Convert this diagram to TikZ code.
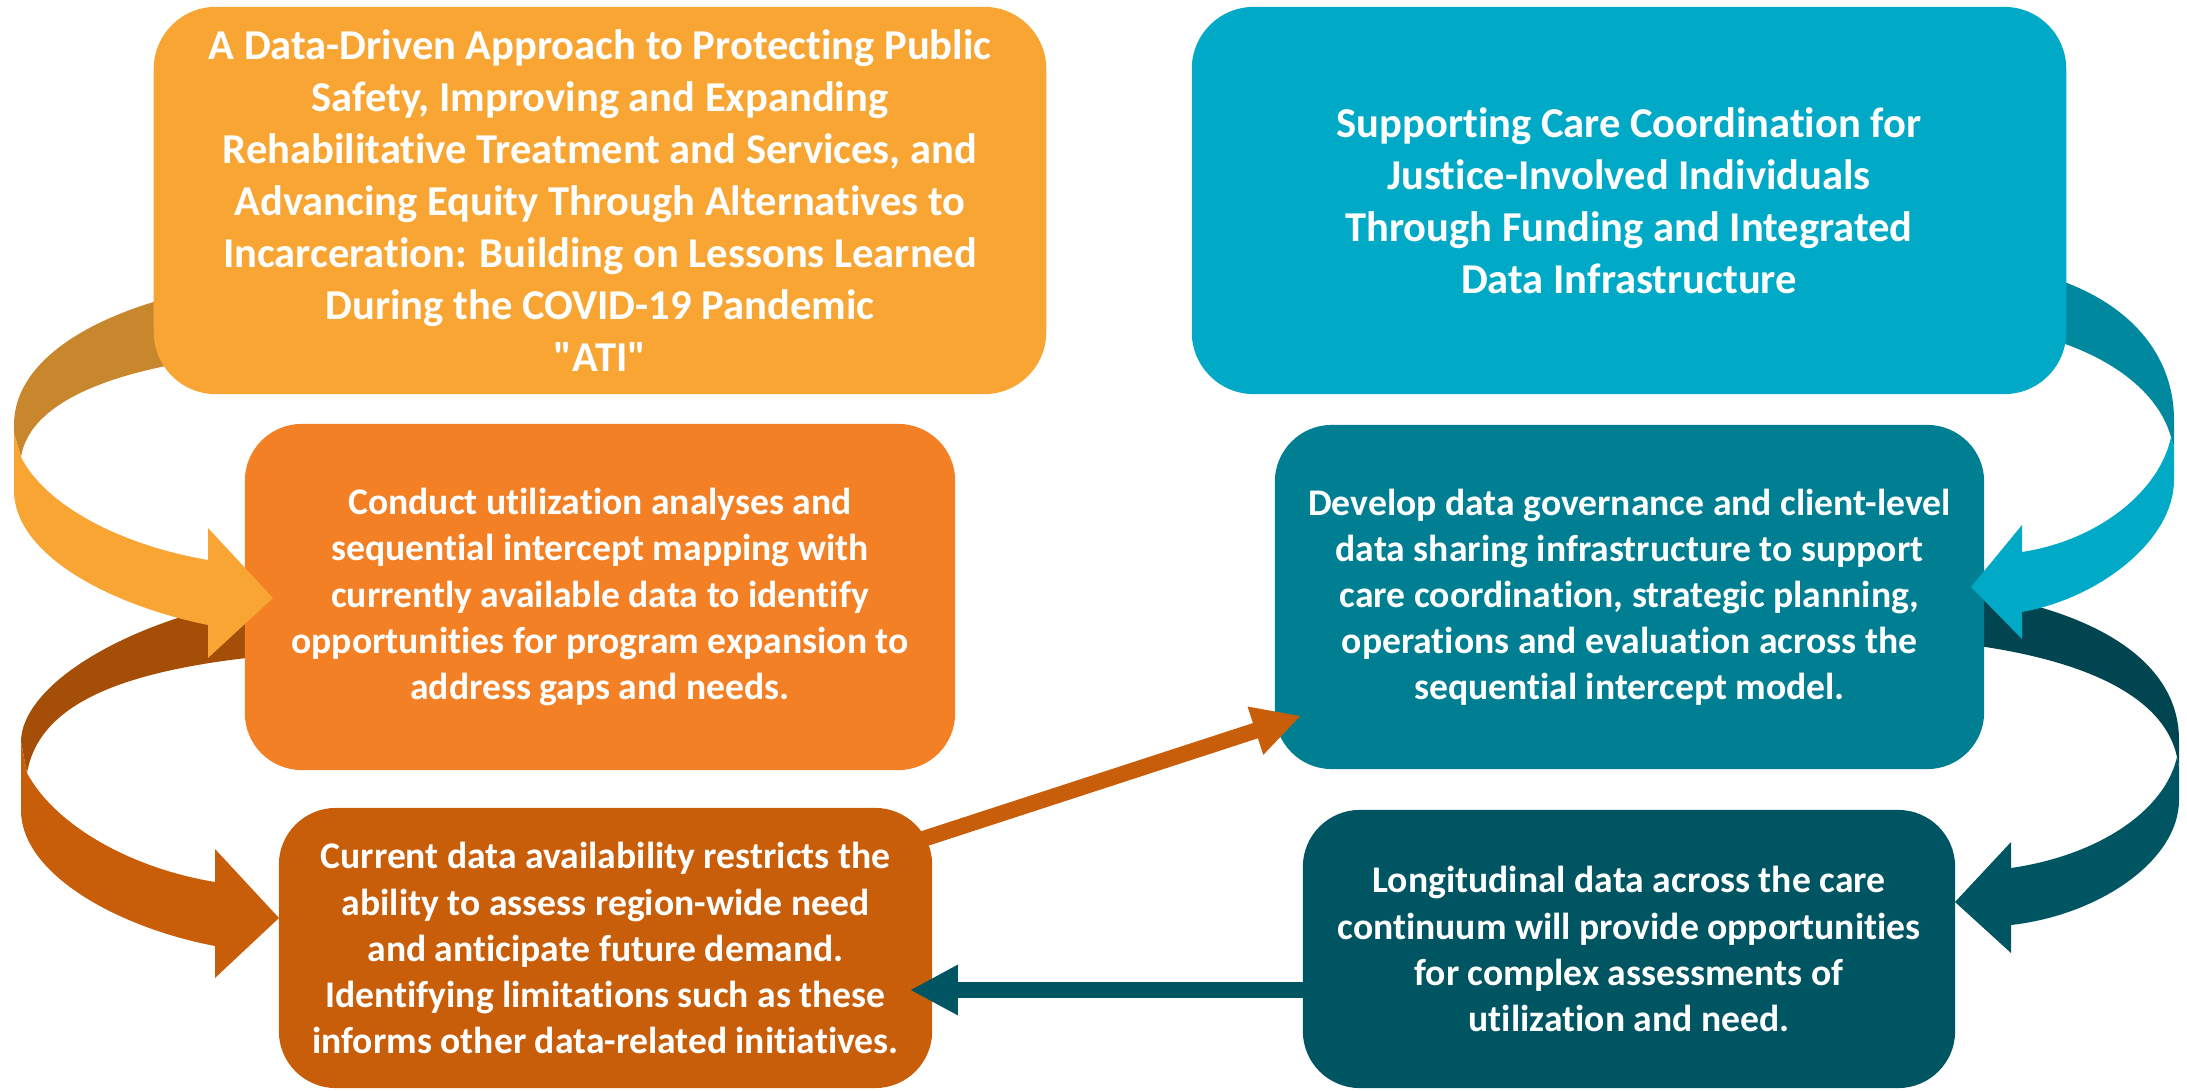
\documentclass[tikz,border=0pt]{standalone}
\usepackage{fontspec}
\newfontfamily\carl{Carlito}[Ligatures=CommonOff]
\usetikzlibrary{arrows.meta,calc}
\definecolor{cA}{HTML}{F9A533}
\definecolor{cAback}{HTML}{C8872C}
\definecolor{cB}{HTML}{F48026}
\definecolor{cC}{HTML}{C95E0A}
\definecolor{cCback}{HTML}{A54E07}
\definecolor{cD}{HTML}{00AAC7}
\definecolor{cDback}{HTML}{00899E}
\definecolor{cE}{HTML}{007F93}
\definecolor{cEback}{HTML}{00454F}
\definecolor{cF}{HTML}{005562}
\tikzset{
  titlebox/.style={rounded corners=0.62cm, inner sep=0pt, align=center, text=white,
    font=\carl\fontsize{12.1pt}{14.8pt}\selectfont\bfseries},
  bodybox/.style={rounded corners=0.57cm, inner sep=0pt, align=center, text=white,
    font=\carl\fontsize{10.7pt}{13.1pt}\selectfont\bfseries},
  flatarrow/.style={line width=0.16cm, -{Triangle[length=0.48cm,width=0.47cm]}},
}
\begin{document}
\begin{tikzpicture}[x=0.01cm,y=-0.01cm]
\useasboundingbox (0,0) rectangle (2187,1091);

% ---- back parts of the curled arrows (behind the boxes)
\fill[cAback] (300,278) .. controls (150,285) and (14,340) .. (14,425) -- (14,433) -- (21,457)
  .. controls (30,400) and (120,360) .. (300,350) -- cycle;
\fill[cCback] (350,585) .. controls (150,600) and (21,680) .. (21,742) -- (27,773)
  .. controls (40,700) and (130,660) .. (350,650) -- cycle;
\fill[cDback] (1950,262) .. controls (2090,265) and (2174,330) .. (2174,420) -- (2174,447) -- (2171,437)
  .. controls (2155,380) and (2080,330) .. (1950,322) -- cycle;
\fill[cEback] (1900,585) .. controls (2070,595) and (2179,650) .. (2179,740) -- (2179,767) -- (2177,757)
  .. controls (2165,700) and (2090,650) .. (1900,638) -- cycle;

% ---- boxes
\node[titlebox, fill=cA, minimum width=8.92cm, minimum height=3.87cm] (b1) at (600,200.5)
  {A Data-Driven Approach to Protecting Public\\Safety, Improving and Expanding\\Rehabilitative Treatment and Services, and\\Advancing Equity Through Alternatives to\\Incarceration: Building on Lessons Learned\\During the COVID-19 Pandemic\\"ATI"};
\node[titlebox, fill=cD, minimum width=8.74cm, minimum height=3.87cm] (b4) at (1629,200.5)
  {Supporting Care Coordination for\\Justice-Involved Individuals\\Through Funding and Integrated\\Data Infrastructure};
\node[bodybox, fill=cB, minimum width=7.10cm, minimum height=3.46cm] (b2) at (600,597)
  {Conduct utilization analyses and\\sequential intercept mapping with\\currently available data to identify\\opportunities for program expansion to\\address gaps and needs.};
\node[bodybox, fill=cE, minimum width=7.09cm, minimum height=3.44cm] (b5) at (1629.5,597)
  {Develop data governance and client-level\\data sharing infrastructure to support\\care coordination, strategic planning,\\operations and evaluation across the\\sequential intercept model.};
\node[bodybox, fill=cC, minimum width=6.53cm, minimum height=2.80cm] (b3) at (605.5,948)
  {Current data availability restricts the\\ability to assess region-wide need\\and anticipate future demand.\\Identifying limitations such as these\\informs other data-related initiatives.};
\node[bodybox, fill=cF, minimum width=6.52cm, minimum height=2.78cm] (b6) at (1629,949)
  {Longitudinal data across the care\\continuum will provide opportunities\\for complex assessments of\\utilization and need.};

% ---- front parts of the curled arrows
\fill[cA] (14,433) -- (14,490) .. controls (14,555) and (110,605) .. (208,625) -- (208,658) -- (273,598)
  -- (208,528) -- (208,560) .. controls (120,545) and (45,505) .. (21,457) -- cycle;
\fill[cC] (21,742) -- (21,810) .. controls (21,875) and (120,928) .. (215,946) -- (215,978) -- (279,918)
  -- (215,849) -- (215,882) .. controls (130,868) and (55,825) .. (27,773) -- cycle;
\fill[cD] (2171,437) -- (2174,447) -- (2174,480) .. controls (2174,540) and (2100,598) .. (2022,612)
  -- (2022,639) -- (1971,587) -- (2022,525) -- (2022,552) .. controls (2100,540) and (2160,490) .. (2171,437) -- cycle;
\fill[cF] (2177,757) -- (2179,767) -- (2179,800) .. controls (2179,860) and (2100,915) .. (2011,925)
  -- (2011,953) -- (1955,902) -- (2011,842) -- (2011,868) .. controls (2100,855) and (2165,810) .. (2177,757) -- cycle;

% ---- straight connectors
\draw[flatarrow, cC] ($(b3.north east)+(-32,39)$) -- ($(b5.south west)+(27,-54)$);
\draw[flatarrow, cF] ($(b6.west)+(5,41)$) -- ($(b3.east)+(-23,42)$);
\end{tikzpicture}
\end{document}
